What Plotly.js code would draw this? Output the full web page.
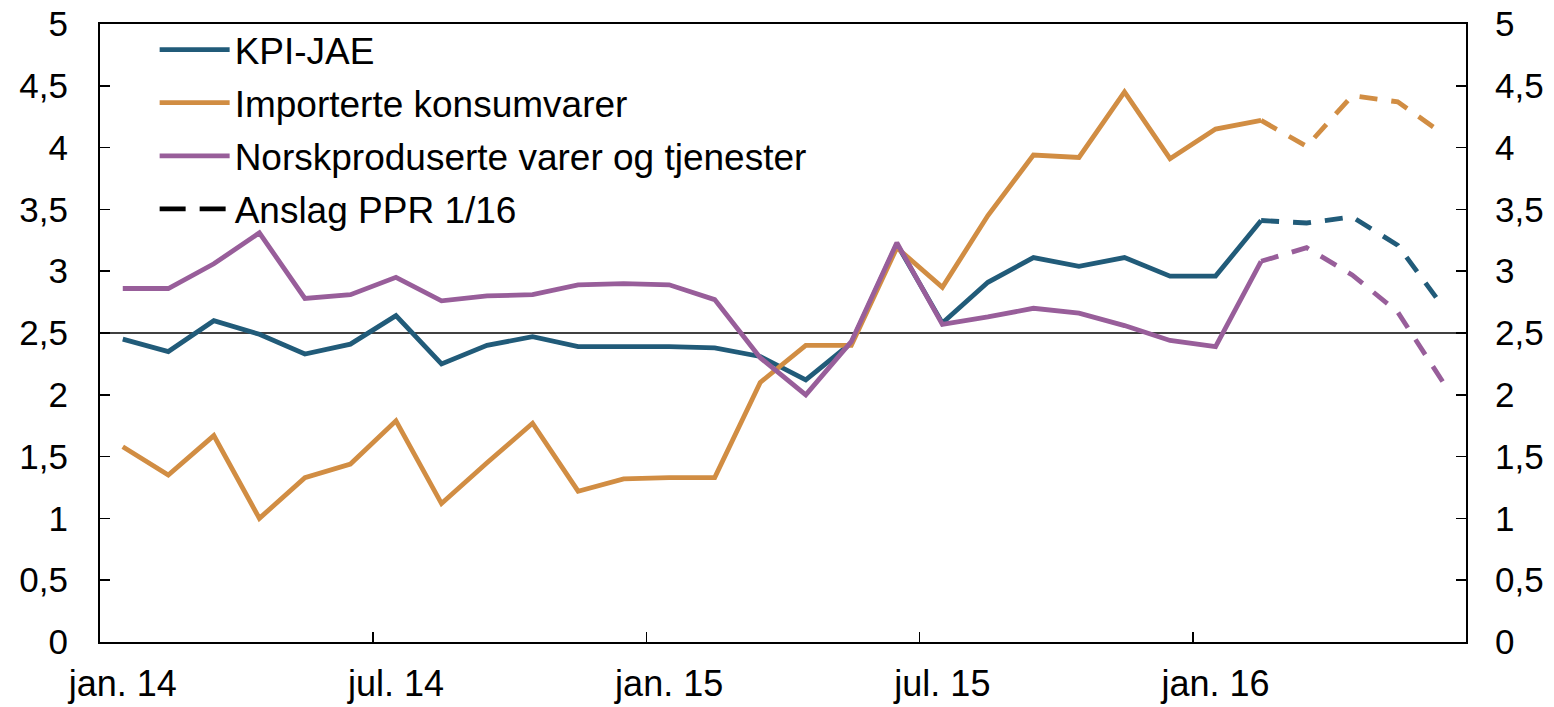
<!DOCTYPE html>
<html>
<head>
<meta charset="utf-8">
<script src="https://cdn.plot.ly/plotly-3.0.1.min.js"></script>
<style>html,body{margin:0;padding:0;background:#fff}#chart{width:1554px;height:707px}</style>
</head>
<body>
<div id="chart"></div>
<script>
const months = ["jan. 14","feb. 14","mar. 14","apr. 14","mai 14","jun. 14","jul. 14","aug. 14","sep. 14","okt. 14","nov. 14","des. 14",
  "jan. 15","feb. 15","mar. 15","apr. 15","mai 15","jun. 15","jul. 15","aug. 15","sep. 15","okt. 15","nov. 15","des. 15",
  "jan. 16","feb. 16","mar. 16","apr. 16","mai 16","jun. 16"];
const tickLabels = ["jan. 14","jul. 14","jan. 15","jul. 15","jan. 16"];
const kpiJae = [2.45,2.35,2.60,2.49,2.33,2.41,2.64,2.25,2.40,2.47,2.39,2.39,2.39,2.38,2.31,2.12,2.42,3.22,2.58,2.91,3.11,3.04,3.11,2.96,2.96,3.41,3.39,3.44,3.21,2.71];
const importerte = [1.58,1.35,1.67,1.00,1.33,1.44,1.79,1.12,1.45,1.77,1.22,1.32,1.33,1.33,2.10,2.40,2.40,3.19,2.87,3.45,3.94,3.92,4.45,3.91,4.15,4.22,4.01,4.42,4.37,4.11];
const norsk = [2.86,2.86,3.06,3.31,2.78,2.81,2.95,2.76,2.80,2.81,2.89,2.90,2.89,2.77,2.30,2.00,2.43,3.23,2.57,2.63,2.70,2.66,2.56,2.44,2.39,3.08,3.19,2.97,2.67,2.10];
const firstForecast = 25; // feb. 16: last actual, forecasts follow
const names = ["KPI-JAE","Importerte konsumvarer","Norskproduserte varer og tjenester"];
const colors = ["#215B79","#D18D43","#985E9A"];
const series = [kpiJae, importerte, norsk];

const dashStyle = "18px,14px";
const traces = [];
series.forEach((s, k) => {
  traces.push({
    x: months.slice(0, firstForecast + 1), y: s.slice(0, firstForecast + 1),
    type: "scatter", mode: "lines", name: names[k], legendgroup: "g" + k,
    line: {color: colors[k], width: 4.8}, hoverinfo: "skip"
  });
});
series.forEach((s, k) => {
  traces.push({
    x: months.slice(firstForecast), y: s.slice(firstForecast),
    type: "scatter", mode: "lines", name: names[k] + " anslag", showlegend: false, legendgroup: "g" + k,
    line: {color: colors[k], width: 4.8, dash: dashStyle}, hoverinfo: "skip"
  });
});
traces.push({
  x: [months[0]], y: [null], type: "scatter", mode: "lines", name: "Anslag PPR 1/16", legendgroup: "g3",
  line: {color: "#000000", width: 4.8, dash: "26px,14px"}
});
// companions for the right axis and the boundary-tick axis
traces.push({x: [months[0]], y: [null], yaxis: "y2", type: "scatter", mode: "lines", showlegend: false, hoverinfo: "skip"});
traces.push({x: [0], y: [null], xaxis: "x2", type: "scatter", mode: "lines", showlegend: false, hoverinfo: "skip"});

const family = "Liberation Sans, Arial, sans-serif";
const tickFont = {family: family, size: 35, color: "#000"};
const xFont = {family: family, size: 36, color: "#000"};
const legFont = {family: family, size: 37, color: "#000"};
const yTicks = [0,0.5,1,1.5,2,2.5,3,3.5,4,4.5,5];
const boundaryTicks = [5.5, 11.5, 17.5, 23.5];
const layout = {
  width: 1554, height: 707,
  margin: {l: 100, r: 88, t: 24, b: 65},
  paper_bgcolor: "#fff", plot_bgcolor: "#fff",
  separators: ", ",
  font: tickFont,
  showlegend: true,
  legend: {x: 0.04, y: 1.008, xanchor: "left", yanchor: "top", bgcolor: "rgba(0,0,0,0)",
    font: legFont, itemwidth: 70, traceorder: "grouped", tracegroupgap: 2},
  xaxis: {type: "category", categoryorder: "array", categoryarray: months,
    range: [-0.5, months.length - 0.5], tickmode: "array", tickvals: tickLabels, ticktext: tickLabels,
    tickangle: 0, ticks: "",
    showline: true, linecolor: "#000", linewidth: 2, mirror: true, showgrid: false, zeroline: false,
    tickfont: xFont, ticklabelstandoff: 9, automargin: false},
  xaxis2: {overlaying: "x", anchor: "y", range: [-0.5, months.length - 0.5], tickmode: "array", tickvals: boundaryTicks,
    showticklabels: false, ticks: "inside", ticklen: 10, tickwidth: 1.5, tickcolor: "#000",
    showline: false, showgrid: false, zeroline: false},
  yaxis: {range: [0, 5], tickmode: "array", tickvals: yTicks, ticks: "inside", ticklen: 10, tickwidth: 1.5, tickcolor: "#000",
    showline: true, linecolor: "#000", linewidth: 2, showgrid: false, zeroline: false, tickfont: tickFont,
    ticklabelstandoff: 23, automargin: false},
  yaxis2: {range: [0, 5], overlaying: "y", side: "right", tickmode: "array", tickvals: yTicks, ticks: "inside", ticklen: 10,
    tickwidth: 1.5, tickcolor: "#000", showline: true, linecolor: "#000", linewidth: 2, showgrid: false, zeroline: false,
    tickfont: tickFont, ticklabelstandoff: 20, automargin: false},
  shapes: [{type: "line", xref: "paper", x0: 0, x1: 1, yref: "y", y0: 2.5, y1: 2.5, line: {color: "#000", width: 1.5}, layer: "below"}]
};
Plotly.newPlot("chart", traces, layout, {displayModeBar: false, staticPlot: true});
</script>
</body>
</html>
